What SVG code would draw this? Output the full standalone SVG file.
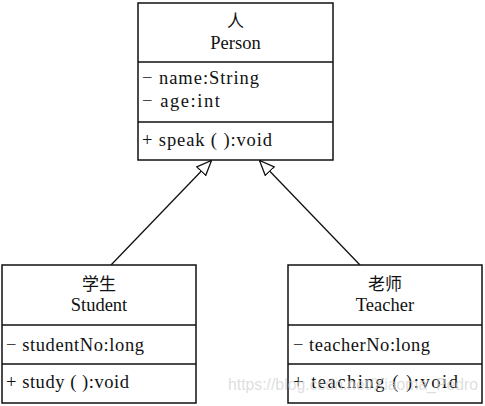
<svg xmlns="http://www.w3.org/2000/svg" width="485" height="406" viewBox="0 0 485 406">
<defs>
<style>
.box{fill:#fff;stroke:#111;stroke-width:1.5}
.div{stroke:#111;stroke-width:1.5}
.t{font-family:"Liberation Serif","Noto Sans CJK SC",serif;font-size:18.5px;fill:#111}
.c{text-anchor:middle}
.cn{font-family:"Noto Sans CJK SC","Liberation Serif",serif;font-size:17px;fill:#111;text-anchor:middle}
.wm{font-family:"Liberation Sans",sans-serif;font-size:17px;fill:#d0d0d0;fill-opacity:0.7}
.edge{stroke:#111;stroke-width:1.3;fill:none;marker-end:url(#tri)}
</style>
<marker id="tri" viewBox="0 0 16 14" refX="15.5" refY="7" markerWidth="16" markerHeight="14" markerUnits="userSpaceOnUse" orient="auto">
<path d="M0.7,0.8 L15.5,7 L0.7,13.2 Z" fill="#fff" stroke="#111" stroke-width="1.3"/>
</marker>
</defs>
<g id="connectors">
<line class="edge" x1="111" y1="265" x2="211.5" y2="160.5"/>
<line class="edge" x1="360" y1="265" x2="259.5" y2="160.5"/>
</g>
<g id="person">
<rect class="box" x="138" y="3" width="195" height="157"/>
<line class="div" x1="138" y1="62" x2="333" y2="62"/>
<line class="div" x1="138" y1="122" x2="333" y2="122"/>
<text class="cn" x="235.5" y="27">人</text>
<text class="t c" x="235.5" y="49">Person</text>
<text class="t" x="142" y="84" textLength="117" lengthAdjust="spacing">− name:String</text>
<text class="t" x="142" y="107" textLength="78" lengthAdjust="spacing">− age:int</text>
<text class="t" x="142" y="146" textLength="130" lengthAdjust="spacing">+ speak ( ):void</text>
</g>
<g id="student">
<rect class="box" x="2" y="265" width="194" height="138"/>
<line class="div" x1="2" y1="325" x2="196" y2="325"/>
<line class="div" x1="2" y1="364" x2="196" y2="364"/>
<text class="cn" x="99" y="290">学生</text>
<text class="t c" x="99" y="311">Student</text>
<text class="t" x="6" y="351" textLength="138" lengthAdjust="spacing">− studentNo:long</text>
<text class="t" x="6" y="388" textLength="123" lengthAdjust="spacing">+ study ( ):void</text>
</g>
<g id="teacher">
<rect class="box" x="288" y="265" width="194" height="138"/>
<line class="div" x1="288" y1="325" x2="482" y2="325"/>
<line class="div" x1="288" y1="364" x2="482" y2="364"/>
<text class="cn" x="385" y="290">老师</text>
<text class="t c" x="385" y="311">Teacher</text>
<text class="t" x="293" y="351" textLength="137" lengthAdjust="spacing">− teacherNo:long</text>
<text class="t" x="293" y="388" textLength="165" lengthAdjust="spacing">+ teaching ( ):void</text>
</g>
<g id="watermark"><text class="wm" x="228" y="390" textLength="250" lengthAdjust="spacingAndGlyphs">https://blog.csdn.net/Xiaoma_Pedro</text></g>
</svg>
